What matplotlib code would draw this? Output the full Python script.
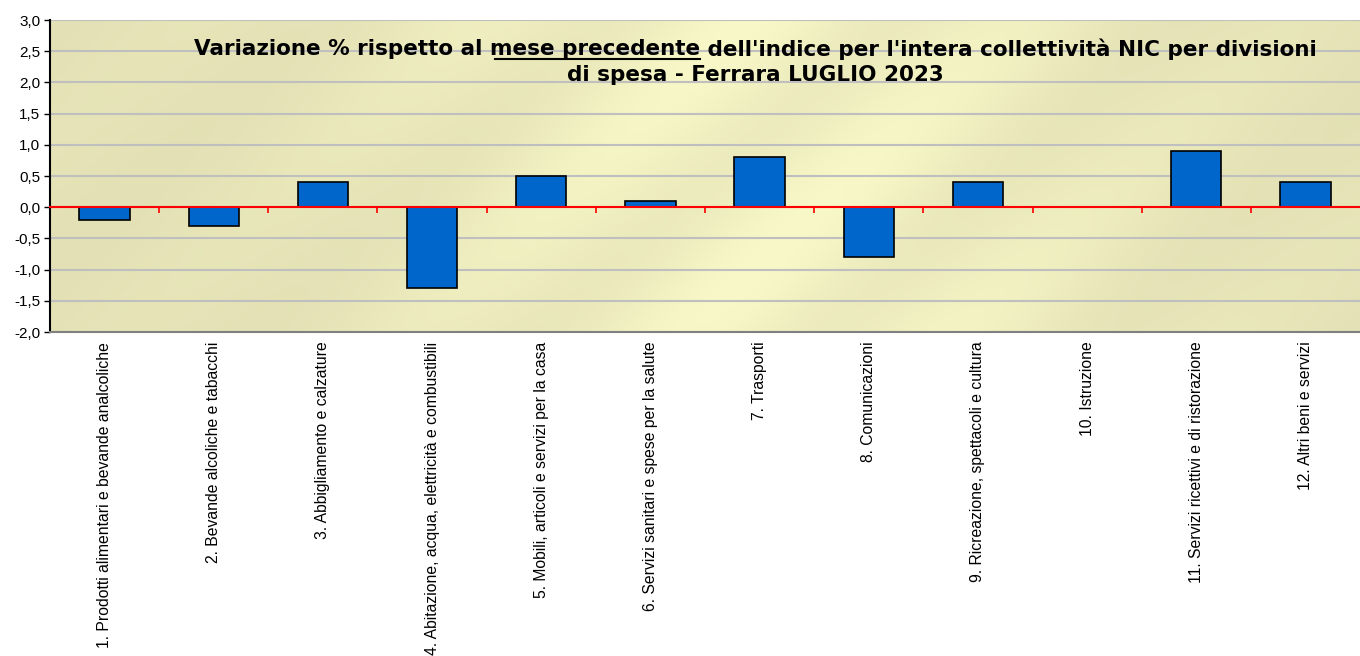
import numpy as np
import matplotlib
matplotlib.use("Agg")
import matplotlib.pyplot as plt
from matplotlib.colors import LinearSegmentedColormap

categories = [
    "1. Prodotti alimentari e bevande analcoliche",
    "2. Bevande alcoliche e tabacchi",
    "3. Abbigliamento e calzature",
    "4. Abitazione, acqua, elettricità e combustibili",
    "5. Mobili, articoli e servizi per la casa",
    "6. Servizi sanitari e spese per la salute",
    "7. Trasporti",
    "8. Comunicazioni",
    "9. Ricreazione, spettacoli e cultura",
    "10. Istruzione",
    "11. Servizi ricettivi e di ristorazione",
    "12. Altri beni e servizi",
]
values = [-0.2, -0.3, 0.4, -1.3, 0.5, 0.1, 0.8, -0.8, 0.4, 0.0, 0.9, 0.4]
yticks = [-2.0, -1.5, -1.0, -0.5, 0.0, 0.5, 1.0, 1.5, 2.0, 2.5, 3.0]
title_pre = "Variazione % rispetto al "
title_ul = "mese precedente"
title_post = " dell'indice per l'intera collettività NIC per divisioni"
title_line2 = "di spesa - Ferrara LUGLIO 2023"

W, H = 1360, 656
fig = plt.figure(figsize=(W / 100, H / 100), dpi=100)
ax = fig.add_axes([50 / W, 1 - 332 / H, (W - 50) / W, (332 - 20) / H])

# background gradient (diagonal light streaks)
nx, ny = 500, 150
xx, yy = np.meshgrid(np.linspace(0, 1, nx), np.linspace(0, 1, ny))
d = xx * 1310 - yy * 312 * 1.1
band = 0.5 + 0.5 * np.sin(d / 45.0)
glow = np.exp(-((xx - 0.55) ** 2) / 0.08)
z = np.clip(0.3 * band * (0.4 + glow) + 0.4 * glow, 0, 1)
cmap = LinearSegmentedColormap.from_list("bg", ["#E2E0B4", "#FDFDCC"])
ax.imshow(z, extent=[0, 1, 0, 1], transform=ax.transAxes, cmap=cmap,
          vmin=0, vmax=1, aspect="auto", origin="lower", zorder=0,
          interpolation="bilinear")

x = np.arange(len(categories))
ax.set_xlim(-0.5, len(categories) - 0.5)
ax.set_ylim(-2.0, 3.0)
ax.set_yticks(yticks)
ax.set_yticklabels([f"{v:.1f}".replace(".", ",") for v in yticks],
                   fontsize=11, family="Liberation Sans")
ax.yaxis.grid(True, color="#BFBFBF", linewidth=1.5, zorder=1)
ax.set_axisbelow(True)

ax.bar(x, values, width=0.46, color="#0066CC", edgecolor="black",
       linewidth=1.2, zorder=3)

ax.set_xticks(x)
ax.set_xticklabels(categories, rotation=90, fontsize=11.3,
                   family="Liberation Sans", va="top")
ax.tick_params(axis="x", length=0, pad=7)
ax.tick_params(axis="y", length=4, width=1, direction="out", color="black",
               pad=3)

for s in ["top", "right"]:
    ax.spines[s].set_visible(False)
ax.spines["left"].set_color("black")
ax.spines["left"].set_linewidth(1.5)
ax.spines["bottom"].set_color("#808080")
ax.spines["bottom"].set_linewidth(1.5)

# red zero axis with category boundary ticks
sec = ax.secondary_xaxis(0.4)
sec.set_xticks(np.arange(0.5, len(categories) - 0.5, 1.0))
sec.set_xticklabels([])
sec.tick_params(axis="x", colors="red", length=4, width=1.2, direction="out")
sec.spines["bottom"].set_color("red")
sec.spines["bottom"].set_linewidth(1.5)
sec.set_zorder(4)

# title with underlined part
fig.canvas.draw()
r = fig.canvas.get_renderer()
fp = dict(fontsize=15.5, fontweight="bold", family="DejaVu Sans")
cx = 755
y1 = H - 49
parts = [title_pre, title_ul, title_post]
tmp = [fig.text(0, 0, p, **fp) for p in parts]
widths = [t.get_window_extent(r).width for t in tmp]
for t in tmp:
    t.remove()
total = sum(widths)
xs = cx - total / 2
pos = xs
for p, w in zip(parts, widths):
    fig.text(pos / W, y1 / H, p, ha="left", va="center", **fp)
    pos += w
ul_x0 = xs + widths[0] + 5
ul_x1 = xs + widths[0] + widths[1]
fig.add_artist(plt.Line2D([ul_x0 / W, ul_x1 / W], [(y1 - 10) / H, (y1 - 10) / H],
                          color="black", linewidth=1.5, transform=fig.transFigure))
fig.text(cx / W, (H - 75) / H, title_line2, ha="center", va="center", **fp)

fig.savefig("out.png", dpi=100, facecolor="white")
